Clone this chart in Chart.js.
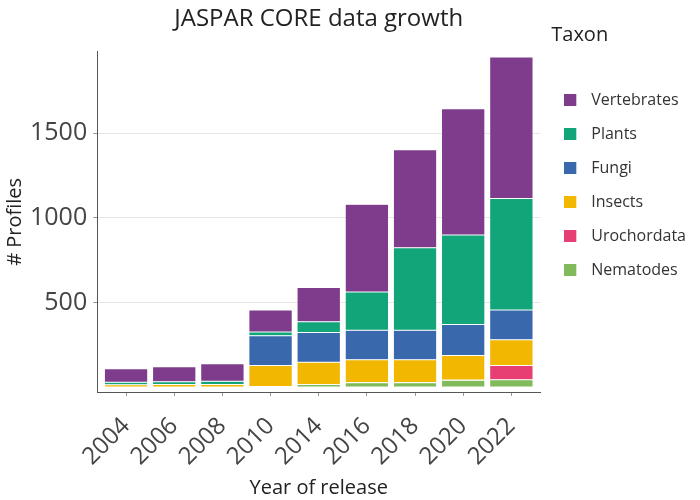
<!DOCTYPE html>
<html>
<head>
<meta charset="utf-8">
<script src="https://cdn.jsdelivr.net/npm/chart.js@4"></script>
<style>
  html, body { margin: 0; padding: 0; background: #fff; }
  #wrap { width: 700px; height: 500px; }
</style>
</head>
<body>
<div id="wrap"><canvas id="grafik"></canvas></div>
<script>
// Veri
const years = ["2004", "2006", "2008", "2010", "2014", "2016", "2018", "2020", "2022"];
const nematodes   = [0, 0, 0, 3, 16, 26, 26, 41, 43];
const urochordata = [0, 0, 0, 0, 0, 1, 1, 1, 85];
const insects     = [14, 16, 16, 125, 131, 135, 135, 145, 151];
const fungi       = [0, 0, 0, 176, 175, 174, 174, 183, 176];
const plants      = [14, 16, 18, 22, 64, 226, 487, 529, 659];
const vertebrates = [80, 88, 104, 130, 202, 518, 580, 745, 837];
const yTicks = [500, 1000, 1500];

const series = [
  { label: "Nematodes", data: nematodes, color: "#80BA5A" },
  { label: "Urochordata", data: urochordata, color: "#E73F74" },
  { label: "Insects", data: insects, color: "#F2B701" },
  { label: "Fungi", data: fungi, color: "#3969AC" },
  { label: "Plants", data: plants, color: "#11A579" },
  { label: "Vertebrates", data: vertebrates, color: "#7F3C8D" }
];

const font = "'Open Sans', 'Noto Sans', sans-serif";

// Lejant kutusu: solda 12px kare, sağında boşluk
function kutu(renk) {
  const c = document.createElement("canvas");
  c.width = 19;
  c.height = 12;
  const g = c.getContext("2d");
  g.fillStyle = renk;
  g.fillRect(0, 0, 12, 12);
  return c;
}
const kutular = series.map(s => kutu(s.color));

// Lejantı grafik alanından biraz sağa kaydır
const lejantKaydir = {
  id: "lejantKaydir",
  afterLayout(chart) {
    const lg = chart.legend;
    lg.left += 11;
    lg.right = chart.width;
    lg.width = lg.right - lg.left;
  }
};

new Chart(document.getElementById("grafik"), {
  type: "bar",
  data: {
    // x ekseni sayısal: her yıl bir sıra numarası
    labels: years.map((_, i) => i),
    datasets: series.map(s => ({
      label: s.label,
      data: s.data,
      backgroundColor: s.color,
      borderColor: "rgba(255,255,255,0.5)",
      borderWidth: 0.5,
      borderSkipped: false,
      barPercentage: 0.9,
      categoryPercentage: 1.0
    }))
  },
  plugins: [lejantKaydir],
  options: {
    responsive: true,
    maintainAspectRatio: false,
    animation: false,
    layout: { padding: { left: 3, right: 15, top: 0, bottom: 0 } },
    plugins: {
      title: {
        display: true,
        text: "JASPAR CORE data growth",
        fullSize: false,
        color: "#222",
        font: { family: font, size: 24, weight: "normal" },
        padding: { top: 5, bottom: 18 }
      },
      legend: {
        position: "right",
        align: "start",
        reverse: true,
        title: {
          display: true,
          text: "Taxon",
          position: "start",
          color: "#222",
          font: { family: font, size: 20 },
          padding: { top: 25, bottom: 30 }
        },
        labels: {
          color: "#333",
          usePointStyle: true,
          pointStyleWidth: 19,
          boxHeight: 12,
          padding: 13,
          font: { family: font, size: 16, lineHeight: "21px" },
          generateLabels: chart =>
            Chart.defaults.plugins.legend.labels.generateLabels(chart).map(item => ({
              ...item,
              text: [item.text],
              pointStyle: kutular[item.datasetIndex]
            }))
        }
      },
      tooltip: { enabled: false }
    },
    scales: {
      x: {
        type: "linear",
        stacked: true,
        offset: false,
        min: -0.6,
        max: years.length - 0.4,
        afterBuildTicks: scale => { scale.ticks = years.map((_, i) => ({ value: i })); },
        afterFit: scale => { scale.height = 108; },
        grid: { offset: false, drawOnChartArea: false, drawTicks: true, tickLength: 4, tickColor: "#999" },
        border: { color: "#555", width: 1 },
        ticks: {
          color: "#444",
          maxRotation: 45,
          minRotation: 45,
          padding: 16,
          autoSkip: false,
          font: { family: font, size: 24 },
          callback: v => years[v]
        },
        title: { display: true, text: "Year of release", color: "#222", font: { family: font, size: 20 }, padding: { top: 0, bottom: 0 } }
      },
      y: {
        stacked: true,
        min: -29,
        max: 1981,
        afterBuildTicks: scale => { scale.ticks = yTicks.map(v => ({ value: v })); },
        grid: { color: "#e6e6e6", lineWidth: 1, tickLength: 4, tickColor: "#999" },
        border: { color: "#555", width: 1 },
        ticks: { color: "#444", padding: 6, font: { family: font, size: 25 }, callback: v => String(v) },
        title: { display: true, text: "# Profiles", color: "#222", font: { family: font, size: 20 }, padding: { top: 0, bottom: -3 } }
      }
    }
  }
});
</script>
</body>
</html>
